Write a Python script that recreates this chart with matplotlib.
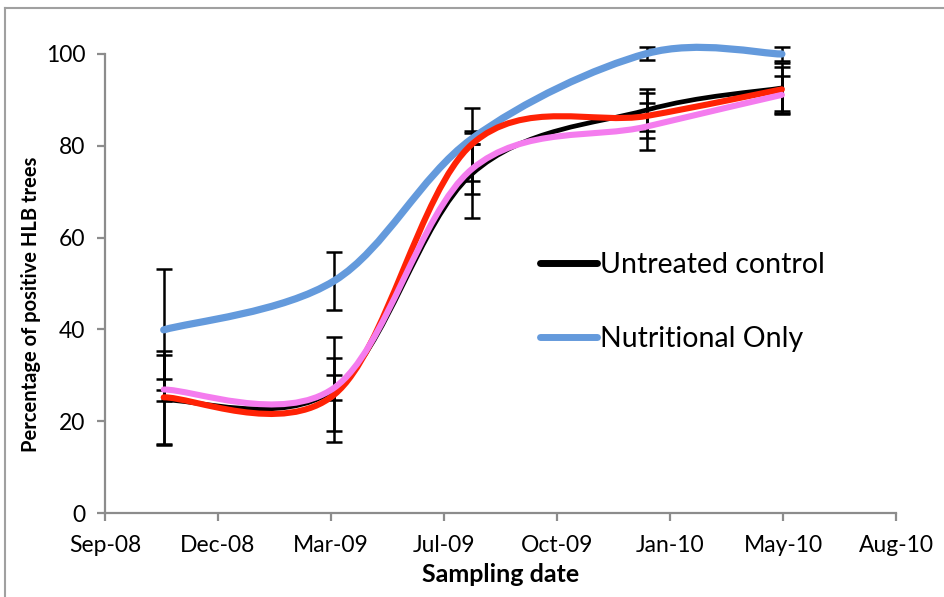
import matplotlib
matplotlib.use("Agg")
import matplotlib.pyplot as plt
import matplotlib.dates as mdates
from matplotlib.path import Path
from matplotlib.patches import PathPatch
from matplotlib.lines import Line2D
import numpy as np
import pandas as pd

# Sampling dates and percentage of HLB-positive trees per treatment
sample_dates = ["2008-10-24", "2009-03-27", "2009-07-29", "2010-01-03", "2010-05-05"]

untreated = [24.6, 26.9, 73.8, 87.8, 92.6]
untreated_err = [9.8, 11.4, 9.5, 4.5, 5.5]

nutritional = [39.9, 50.6, 81.5, 100.1, 100.0]
nutritional_err = [13.2, 6.3, 1.2, 1.5, 1.6]

treatment_red = [25.2, 25.8, 80.3, 86.5, 92.3]
treatment_red_err = [10.1, 7.9, 8.0, 4.9, 4.8]

treatment_pink = [26.9, 27.3, 74.9, 84.2, 91.1]
treatment_pink_err = [2.4, 2.7, 5.5, 5.2, 4.2]

legend_labels = ["Untreated control", "Nutritional Only"]
y_ticks = [0, 20, 40, 60, 80, 100]
x_tick_start = "2008-09-01"
x_tick_step_days = 102
x_tick_count = 8

x = mdates.date2num(pd.to_datetime(sample_dates))


def smooth_path(xs, ys):
    """Cubic Bezier path through the points (Catmull-Rom style smoothing)."""
    pts = np.column_stack([xs, ys]).astype(float)
    n = len(pts)
    verts = [pts[0]]
    codes = [Path.MOVETO]
    for i in range(n - 1):
        p_prev = pts[i - 1] if i > 0 else pts[i]
        p0 = pts[i]
        p1 = pts[i + 1]
        p_next = pts[i + 2] if i + 2 < n else pts[i + 1]
        c1 = p0 + (p1 - p_prev) / 6.0
        c2 = p1 - (p_next - p0) / 6.0
        verts += [c1, c2, p1]
        codes += [Path.CURVE4] * 3
    return Path(verts, codes)


fig = plt.figure(figsize=(9.44, 5.97), dpi=100)
ax = fig.add_axes([105 / 944, 1 - 513 / 597, (896 - 105) / 944, (513 - 54) / 597])

tick_font = ["Lato", "DejaVu Sans"]
label_font = ["Lato", "DejaVu Sans"]

series = [
    (untreated, untreated_err, "black", 3.4, 3),
    (nutritional, nutritional_err, "#649ADC", 5.2, 4),
    (treatment_red, treatment_red_err, "#FF2205", 4.4, 5),
    (treatment_pink, treatment_pink_err, "#F47CEE", 4.4, 6),
]

for vals, errs, color, lw, z in series:
    ax.errorbar(x, vals, yerr=errs, fmt="none", ecolor="black", elinewidth=1.8,
                capsize=6, capthick=1.8, zorder=2, clip_on=False)

for vals, errs, color, lw, z in series:
    patch = PathPatch(smooth_path(x, vals), facecolor="none", edgecolor=color,
                      lw=lw, capstyle="round", joinstyle="round", zorder=z, clip_on=False)
    ax.add_patch(patch)

tick_dates = pd.date_range(x_tick_start, periods=x_tick_count, freq=f"{x_tick_step_days}D")
tick_nums = mdates.date2num(tick_dates)
ax.set_xlim(tick_nums[0], tick_nums[-1])
ax.set_xticks(tick_nums)
ax.xaxis.set_major_formatter(mdates.DateFormatter("%b-%y"))
ax.set_ylim(0, 100)
ax.set_yticks(y_ticks)

for side in ("top", "right"):
    ax.spines[side].set_visible(False)
for side in ("left", "bottom"):
    ax.spines[side].set_color("#8C8C8C")
    ax.spines[side].set_linewidth(1.6)
ax.tick_params(axis="both", direction="out", color="#8C8C8C", width=1.6, length=6,
               labelsize=16.5)
ax.tick_params(axis="x", pad=10)
ax.tick_params(axis="y", pad=8)
for lab in ax.get_xticklabels() + ax.get_yticklabels():
    lab.set_family(tick_font)

ax.set_xlabel("Sampling date", fontsize=18, fontweight="bold", family=label_font, labelpad=5)
ax.set_ylabel("Percentage of positive HLB trees", fontsize=14.5, fontweight="bold",
              family=label_font)
ax.yaxis.set_label_coords((41 - 105) / 791, (513 - 304) / 459)

handles = [Line2D([], [], color="black", lw=5, solid_capstyle="round"),
           Line2D([], [], color="#649ADC", lw=5, solid_capstyle="round")]
ax.legend(handles, legend_labels, loc="center left",
          bbox_to_anchor=((540 - 105) / 791, (513 - 302) / 459),
          frameon=False, prop={"family": label_font, "size": 20.5}, handlelength=2.0,
          handletextpad=0.1, labelspacing=1.68, borderpad=0, borderaxespad=0)

# outer chart frame (left and top edges)
fig.add_artist(Line2D([5 / 944, 5 / 944], [0, 1 - 8 / 597], transform=fig.transFigure,
                      color="#A0A0A0", lw=1.5))
fig.add_artist(Line2D([5 / 944, 1], [1 - 8 / 597, 1 - 8 / 597], transform=fig.transFigure,
                      color="#A0A0A0", lw=1.5))

fig.savefig("out.png", dpi=100)
